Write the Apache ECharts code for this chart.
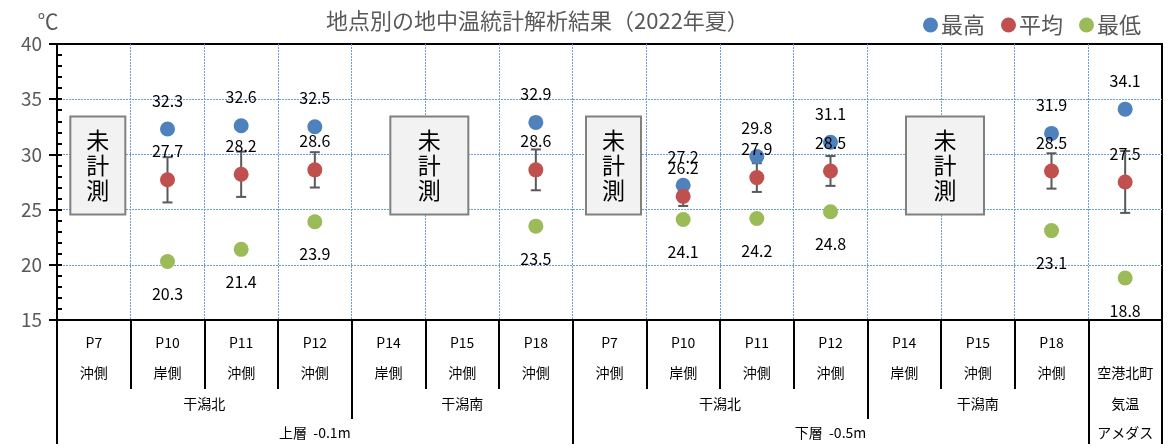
<!DOCTYPE html>
<html>
<head>
    <meta charset="utf-8"/>
    <title>地点別の地中温統計解析結果</title>
    <script src="https://cdn.jsdelivr.net/npm/echarts@6/dist/echarts.min.js"></script>
    <style>
        html, body { margin: 0; padding: 0; background: #fff; }
        #main { width: 1168px; height: 448px; }
    </style>
</head>
<body>
<div id="main"></div>
<script type="text/javascript">
    // 地点ラベル（1段目・2段目）
    var points = ['P7', 'P10', 'P11', 'P12', 'P14', 'P15', 'P18', 'P7', 'P10', 'P11', 'P12', 'P14', 'P15', 'P18', ''];
    var sides = ['沖側', '岸側', '沖側', '沖側', '岸側', '沖側', '沖側', '沖側', '岸側', '沖側', '沖側', '岸側', '沖側', '沖側', '空港北町'];
    // 3段目・4段目（span = 何地点ぶんか）
    var groups = [
        {name: '干潟北', span: 4}, {name: '干潟南', span: 3},
        {name: '干潟北', span: 4}, {name: '干潟南', span: 3},
        {name: '気温', span: 1}
    ];
    var layers = [
        {name: '上層  -0.1m', span: 7}, {name: '下層  -0.5m', span: 7}, {name: 'アメダス', span: 1}
    ];

    var maxTemp = [null, 32.3, 32.6, 32.5, null, null, 32.9, null, 27.2, 29.8, 31.1, null, null, 31.9, 34.1];
    var avgTemp = [null, 27.7, 28.2, 28.6, null, null, 28.6, null, 26.2, 27.9, 28.5, null, null, 28.5, 27.5];
    var minTemp = [null, 20.3, 21.4, 23.9, null, null, 23.5, null, 24.1, 24.2, 24.8, null, null, 23.1, 18.8];
    var sdTemp = [null, 2.05, 2.05, 1.6, null, null, 1.85, null, 0.87, 1.3, 1.35, null, null, 1.6, 2.8];
    // 未計測の地点（先頭〜末尾のindex）
    var unmeasured = [[0, 0], [4, 5], [7, 7], [11, 12]];

    var FONT = "'Noto Sans CJK JP', 'Noto Sans', sans-serif";
    var GRAY = '#595959';
    var GRID_BLUE = '#6b9bd8';
    var NONE = 'rgba(0,0,0,0)';

    // 段ごとのラベル位置と区切り線位置を span から組み立てる
    function spanInfo(list) {
        var labels = {}, centers = [], bounds = [0], pos = 0;
        list.forEach(function (g) {
            var c = pos + g.span / 2;
            labels[c] = g.name;
            centers.push(c);
            pos += g.span;
            bounds.push(pos);
        });
        return {labels: labels, centers: centers, bounds: bounds};
    }
    var groupInfo = spanInfo(groups);
    var layerInfo = spanInfo(layers);

    var catLabels = points.map(function (p, i) {
        return p + '\n' + sides[i];
    });

    function toData(arr) {
        return arr.map(function (v) { return v == null ? '-' : v; });
    }

    // 枠と重なる両端の補助線は描かない
    function splitColors(n) {
        var c = [NONE];
        for (var i = 1; i < n - 1; i++) c.push(GRID_BLUE);
        c.push(NONE);
        return c;
    }

    var errData = [];
    avgTemp.forEach(function (v, i) {
        if (v != null && sdTemp[i] != null) {
            errData.push([i, v - sdTemp[i], v + sdTemp[i]]);
        }
    });

    var boxData = unmeasured.map(function (u) {
        return [u[0], 29, u[1]];
    });

    var myChart = echarts.init(document.getElementById('main'));

    var option = {
        animation: false,
        textStyle: {fontFamily: FONT},
        title: {
            text: '地点別の地中温統計解析結果（2022年夏）',
            left: 321,
            top: 5,
            textStyle: {fontSize: 22, fontWeight: 'normal', color: GRAY, fontFamily: FONT}
        },
        legend: {
            data: ['最高', '平均', '最低'],
            right: 22,
            top: 9,
            icon: 'circle',
            itemWidth: 15,
            itemHeight: 15,
            itemGap: 16,
            textStyle: {fontSize: 22, color: GRAY, fontFamily: FONT, padding: [0, 0, 0, -2]}
        },
        grid: {
            left: 57, right: 6, top: 44, bottom: 124,
            show: true,
            borderColor: '#000',
            borderWidth: 2,
            containLabel: false
        },
        xAxis: [
            {
                type: 'category',
                data: catLabels,
                boundaryGap: true,
                axisLine: {onZero: false, lineStyle: {color: '#000', width: 2}},
                axisTick: {show: true, length: 69, lineStyle: {color: '#000', width: 2}},
                axisLabel: {
                    interval: 0, margin: 8, fontSize: 14, lineHeight: 30,
                    color: '#000', verticalAlign: 'top'
                },
                splitLine: {
                    show: true,
                    lineStyle: {color: splitColors(points.length + 1), type: [2, 1], width: 1}
                }
            },
            {
                type: 'value', min: 0, max: 15, position: 'bottom',
                axisLine: {show: false, onZero: false},
                axisTick: {show: true, length: 99, customValues: groupInfo.bounds, lineStyle: {color: '#000', width: 2}},
                axisLabel: {
                    customValues: groupInfo.centers, margin: 69, fontSize: 14, lineHeight: 30,
                    color: '#000', verticalAlign: 'top',
                    formatter: function (v) { return groupInfo.labels[v] || ''; }
                },
                splitLine: {show: false}
            },
            {
                type: 'value', min: 0, max: 15, position: 'bottom',
                axisLine: {show: false, onZero: false},
                axisTick: {show: true, length: 124, customValues: layerInfo.bounds, lineStyle: {color: '#000', width: 2}},
                axisLabel: {
                    customValues: layerInfo.centers, margin: 98, fontSize: 14, lineHeight: 30,
                    color: '#000', verticalAlign: 'top',
                    formatter: function (v) { return layerInfo.labels[v] || ''; }
                },
                splitLine: {show: false}
            }
        ],
        yAxis: [
            {
                type: 'value', min: 15, max: 40, interval: 5,
                name: '℃',
                nameLocation: 'end',
                nameGap: 12,
                nameTextStyle: {fontSize: 21, color: GRAY, padding: [0, 18, 0, 0]},
                axisLine: {show: true, onZero: false, lineStyle: {color: '#000', width: 2}},
                axisTick: {show: true, length: 8, lineStyle: {color: '#000', width: 2}},
                axisLabel: {fontSize: 19, color: GRAY, margin: 15},
                splitLine: {
                    show: true,
                    lineStyle: {color: splitColors(6), type: [2, 1], width: 1}
                }
            },
            {
                type: 'value', min: 15, max: 40, interval: 1, position: 'left', offset: 0,
                axisLine: {show: false, onZero: false},
                axisTick: {show: true, inside: true, length: 5, lineStyle: {color: '#000', width: 2}},
                axisLabel: {show: false},
                splitLine: {show: false}
            }
        ],
        series: [
            {
                type: 'custom',
                name: '未計測',
                data: boxData,
                encode: {x: 0, y: 1},
                z: 1,
                renderItem: function (params, api) {
                    var p1 = api.coord([api.value(0), api.value(1)]);
                    var p2 = api.coord([api.value(2), api.value(1)]);
                    var cx = (p1[0] + p2[0]) / 2 + 4;
                    var cy = p1[1];
                    var w = 55 + (api.value(2) - api.value(0)) * 23;
                    var h = 98;
                    return {
                        type: 'group',
                        children: [
                            {
                                type: 'rect',
                                shape: {x: cx - w / 2, y: cy - h / 2, width: w, height: h},
                                style: {fill: '#f2f2f2', stroke: '#808080', lineWidth: 2}
                            },
                            {
                                type: 'text',
                                style: {
                                    x: cx, y: cy, text: '未\n計\n測',
                                    fontSize: 23, lineHeight: 25, fill: '#000',
                                    fontFamily: FONT, align: 'center', verticalAlign: 'middle'
                                }
                            }
                        ]
                    };
                }
            },
            {
                type: 'custom',
                name: '標準偏差',
                data: errData,
                encode: {x: 0, y: [1, 2]},
                z: 2,
                renderItem: function (params, api) {
                    var lo = api.coord([api.value(0), api.value(1)]);
                    var hi = api.coord([api.value(0), api.value(2)]);
                    var cap = 5;
                    var st = {stroke: GRAY, lineWidth: 2};
                    return {
                        type: 'group',
                        children: [
                            {type: 'line', shape: {x1: lo[0], y1: lo[1], x2: hi[0], y2: hi[1]}, style: st},
                            {type: 'line', shape: {x1: lo[0] - cap, y1: lo[1], x2: lo[0] + cap, y2: lo[1]}, style: st},
                            {type: 'line', shape: {x1: hi[0] - cap, y1: hi[1], x2: hi[0] + cap, y2: hi[1]}, style: st}
                        ]
                    };
                }
            },
            {
                name: '最高', type: 'scatter', data: toData(maxTemp), symbolSize: 15, z: 3,
                itemStyle: {color: '#4f81bd', opacity: 1},
                label: {show: true, position: 'top', distance: 13, fontSize: 16, color: '#000'}
            },
            {
                name: '平均', type: 'scatter', data: toData(avgTemp), symbolSize: 15, z: 3,
                itemStyle: {color: '#c0504d', opacity: 1},
                label: {show: true, position: 'top', distance: 13, fontSize: 16, color: '#000'}
            },
            {
                name: '最低', type: 'scatter', data: toData(minTemp), symbolSize: 15, z: 3,
                itemStyle: {color: '#9bbb59', opacity: 1},
                label: {show: true, position: 'bottom', distance: 17, fontSize: 16, color: '#000'}
            }
        ]
    };

    myChart.setOption(option);
</script>
</body>
</html>
